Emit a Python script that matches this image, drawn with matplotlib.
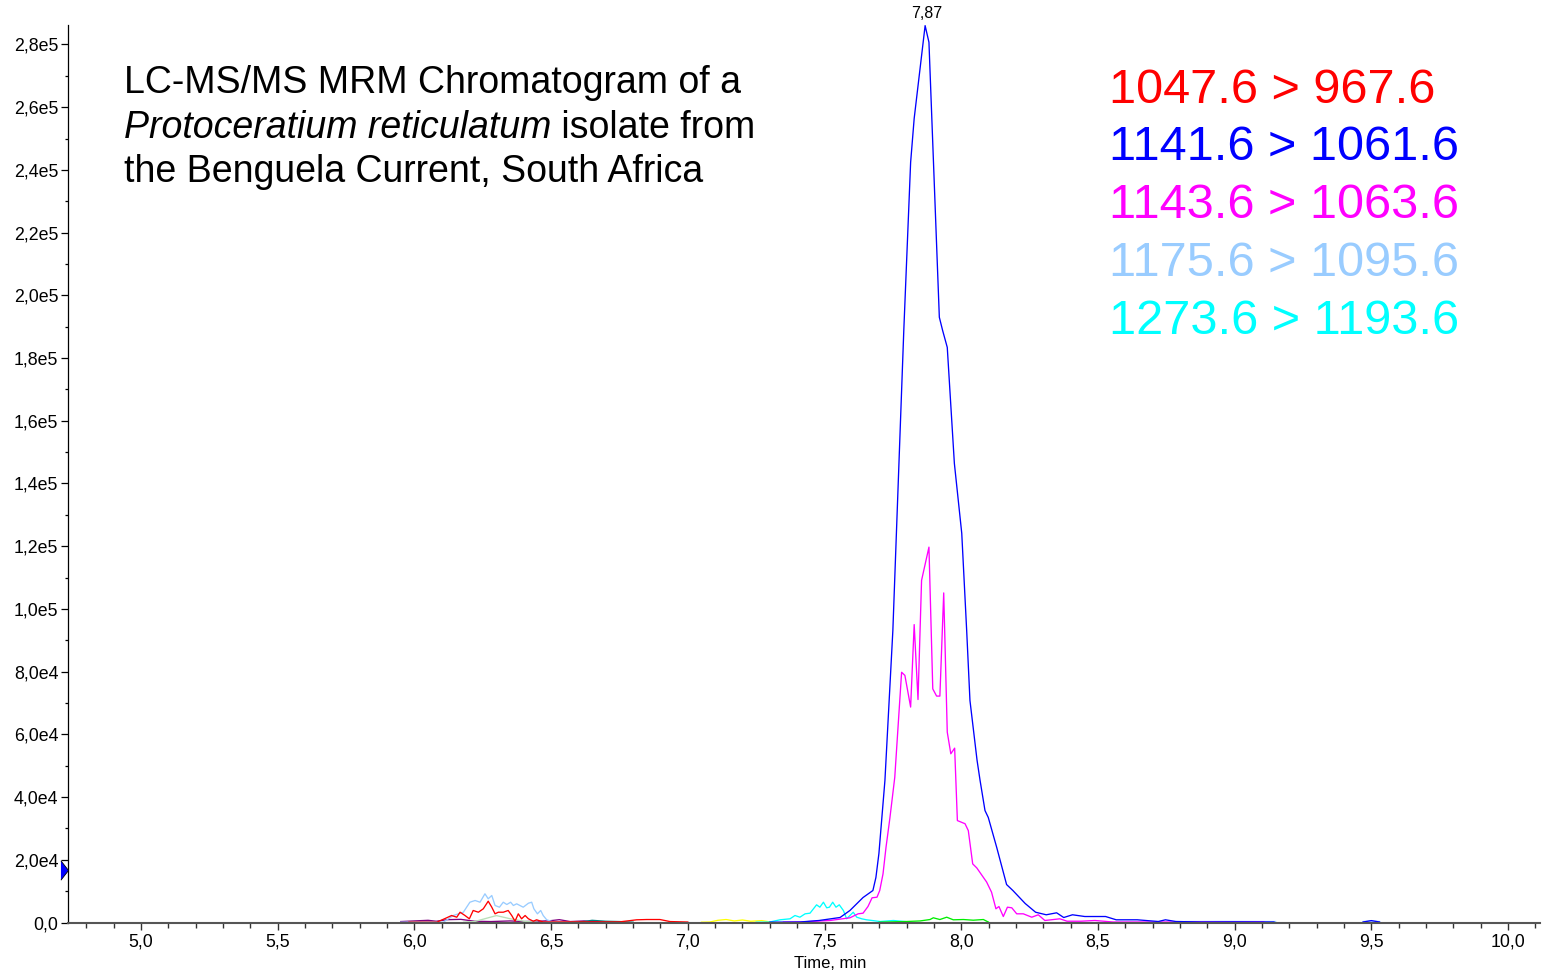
import numpy as np
import matplotlib
matplotlib.use('Agg')
import matplotlib.pyplot as plt
from matplotlib.ticker import MultipleLocator, FuncFormatter

plt.rcParams['font.family'] = ['Liberation Sans', 'DejaVu Sans']
nan = np.nan

# ---------------- data (time in min, intensity in cps) ----------------
blue_t = [7.30, 7.41, 7.48, 7.557, 7.593, 7.641, 7.677, 7.688, 7.699, 7.721, 7.750, 7.790,
          7.815, 7.828, 7.868, 7.882, 7.920, 7.932, 7.949, 7.975, 8.002, 8.020, 8.032, 8.058,
          8.069, 8.087, 8.099, 8.130, 8.166, 8.189, 8.234, 8.272, 8.311, 8.349, 8.375, 8.407,
          8.452, 8.528, 8.567, 8.644, 8.721, 8.747, 8.785, 8.88, 9.00, 9.144, nan, 9.47, 9.50, 9.53]
blue_i = [100, 160, 640, 1600, 3830, 7970, 10200, 14350, 22000, 45300, 93100, 188800,
          242400, 256400, 286000, 280700, 193000, 188800, 183400, 146400, 124100, 93100, 70800, 51700,
          45300, 35700, 33500, 23900, 12100, 10200, 6060, 3280, 2460, 3090, 1590, 2460,
          1910, 1910, 860, 860, 320, 860, 320, 160, 200, 160, nan, 160, 600, 160]

mag_t = [7.35, 7.41, 7.52, 7.593, 7.623, 7.641, 7.659, 7.674, 7.692, 7.702, 7.714, 7.725,
         7.739, 7.757, 7.782, 7.794, 7.815, 7.828, 7.842, 7.855, 7.882, 7.896, 7.910, 7.922,
         7.936, 7.949, 7.962, 7.976, 7.986, 8.014, 8.026, 8.042, 8.057, 8.093, 8.111, 8.127,
         8.138, 8.154, 8.169, 8.185, 8.203, 8.227, 8.258, 8.282, 8.306, 8.361, 8.387, 8.438,
         8.489, 8.555, 9.107]
mag_i = [100, 160, 640, 1500, 2770, 2970, 5100, 7880, 8070, 10200, 15500, 24000,
         33200, 46300, 79800, 78800, 68700, 95000, 71100, 109100, 119700, 74500, 72200, 72200,
         105100, 60700, 53800, 55600, 32500, 31500, 29300, 18700, 17400, 12900, 9660, 4370,
         5100, 1910, 4880, 4690, 2770, 2770, 1690, 2460, 640, 1180, 410, 410,
         640, 160, 160]

ltblue_t = [5.95, 6.05, 6.106, 6.142, 6.179, 6.203, 6.222, 6.240, 6.258, 6.270, 6.283, 6.295,
            6.311, 6.325, 6.338, 6.352, 6.362, 6.374, 6.386, 6.398, 6.417, 6.429, 6.437, 6.450,
            6.462, 6.471, 6.484, 6.508, 6.60, nan, 8.82, 8.95, 9.15, nan, 9.47, 9.50, 9.53]
ltblue_i = [100, 200, 100, 2230, 3280, 6470, 7020, 6470, 9150, 7560, 8610, 5420,
            4880, 6470, 5740, 6470, 5420, 5960, 5420, 4880, 6150, 6470, 4370, 2770,
            3830, 2230, 860, 160, 100, nan, 300, 350, 300, nan, 300, 500, 300]

red_t = [5.98, 6.082, 6.118, 6.136, 6.155, 6.167, 6.185, 6.201, 6.215, 6.234, 6.252, 6.270,
         6.283, 6.295, 6.307, 6.325, 6.343, 6.356, 6.368, 6.380, 6.392, 6.405, 6.417, 6.435,
         6.447, 6.471, 6.60, 6.75, 6.813, 6.850, 6.898, 6.935, 7.00]
red_i = [100, 100, 1500, 2230, 1690, 3280, 2230, 1180, 3830, 3280, 4370, 6790,
         4880, 2770, 3280, 3280, 3830, 2230, 410, 2770, 1180, 2230, 1180, 410,
         860, 160, 200, 200, 860, 950, 950, 300, 150]

cyan_t = [7.25, 7.300, 7.337, 7.374, 7.392, 7.410, 7.429, 7.447, 7.471, 7.483, 7.496, 7.508,
          7.518, 7.530, 7.542, 7.554, 7.569, 7.581, 7.593, 7.605, 7.618, 7.636, 7.654, 7.703,
          7.752, 7.813]
cyan_i = [100, 160, 860, 1180, 2230, 1690, 2770, 2970, 5640, 4880, 6470, 4690,
          4880, 6470, 4880, 5640, 3830, 1180, 2230, 3280, 1690, 1180, 860, 320,
          640, 160]

green_t = [7.70, 7.801, 7.850, 7.886, 7.898, 7.922, 7.947, 7.971, 8.008, 8.044, 8.081, 8.099]
green_i = [100, 320, 500, 950, 1500, 950, 1690, 860, 950, 730, 950, 160]

yellow_t = [7.05, 7.08, 7.11, 7.14, 7.17, 7.20, 7.23, 7.27, 7.30]
yellow_i = [100, 160, 700, 950, 500, 800, 400, 600, 200]

purple_t = [5.95, 6.00, 6.05, 6.08, 6.12, 6.17, 6.22, 6.28, 6.35, 6.40, 6.45, 6.50, 6.53,
            6.57, 6.62, 6.65, 6.70]
purple_i = [300, 500, 700, 400, 900, 1000, 400, 300, 500, 300, 400, 600, 900,
            300, 500, 300, 200]

ltgreen_t = [6.18, 6.22, 6.27, 6.30, 6.35, 6.40, 6.45]
ltgreen_i = [100, 300, 1500, 2200, 1200, 400, 100]

teal_t = [6.58, 6.62, 6.65, 6.70, 6.75, 6.80]
teal_i = [100, 300, 700, 400, 300, 100]

peak_rt = 7.875
peak_label = "7,87"
marker_level = 16900

legend_labels = ["1047.6 > 967.6", "1141.6 > 1061.6", "1143.6 > 1063.6",
                 "1175.6 > 1095.6", "1273.6 > 1193.6"]
legend_colors = ["#FF0000", "#0000FF", "#FF00FF", "#99CCFF", "#00FFFF"]

# ---------------- figure ----------------
W, H = 1543, 972
fig = plt.figure(figsize=(W / 100, H / 100), dpi=100)
ax = fig.add_axes([68 / W, 1 - 922.5 / H, (1540 - 68) / W, (922.5 - 25) / H])

lw = 0.95
ax.plot(purple_t, purple_i, color="#800080", lw=lw)
ax.plot(teal_t, teal_i, color="#008080", lw=lw)
ax.plot(ltgreen_t, ltgreen_i, color="#B8E0B8", lw=lw)
ax.plot(yellow_t, yellow_i, color="#FFFF00", lw=lw)
ax.plot(ltblue_t, ltblue_i, color="#99CCFF", lw=lw)
ax.plot(red_t, red_i, color="#FF0000", lw=lw)
ax.plot(cyan_t, cyan_i, color="#00FFFF", lw=lw)
ax.plot(green_t, green_i, color="#00EE00", lw=lw)
ax.plot(mag_t, mag_i, color="#FF00FF", lw=lw)
ax.plot(blue_t, blue_i, color="#0000FF", lw=lw)

xmin, xmax = 4.733, 10.117
ax.set_xlim(xmin, xmax)
ax.set_ylim(0, 2.862e5)

def yfmt(v, pos):
    if abs(v) < 1e-9:
        return "0,0"
    e = int(np.floor(np.log10(abs(v)) + 1e-9))
    m = v / 10 ** e
    return f"{m:.1f}e{e}".replace('.', ',')

def xfmt(v, pos):
    return f"{v:.1f}".replace('.', ',')

ax.xaxis.set_major_locator(MultipleLocator(0.5))
ax.xaxis.set_minor_locator(MultipleLocator(0.1))
ax.yaxis.set_major_locator(MultipleLocator(2e4))
ax.yaxis.set_minor_locator(MultipleLocator(1e4))
ax.xaxis.set_major_formatter(FuncFormatter(xfmt))
ax.yaxis.set_major_formatter(FuncFormatter(yfmt))

ax.spines['top'].set_visible(False)
ax.spines['right'].set_visible(False)
ax.spines['bottom'].set_color('#555555')
ax.spines['bottom'].set_linewidth(1.5)
ax.spines['left'].set_color('black')
ax.spines['left'].set_linewidth(0.9)
ax.tick_params(axis='x', which='major', length=5, width=1, color='#333333', pad=3, labelsize=12.8)
ax.tick_params(axis='x', which='minor', length=3.5, width=1, color='#333333')
ax.tick_params(axis='y', which='major', length=5, width=0.9, color='black', pad=2, labelsize=12.8)
ax.tick_params(axis='y', which='minor', length=2.5, width=0.9, color='black')

# left-edge marker
ax.plot([xmin], [marker_level], marker=[(-7, -9), (0, 0), (-7, 9)], markersize=14,
        color='#0000FF', markeredgecolor='black', markeredgewidth=0.6, clip_on=False, zorder=5)

# peak label
ax.annotate(peak_label, xy=(peak_rt, 2.862e5), xytext=(0, 3), textcoords='offset points',
            ha='center', va='bottom', fontsize=11.5, annotation_clip=False)

# title
tx = 124 / W
fs_title = 27
fig.text(tx, 1 - 92.7 / H, "LC-MS/MS MRM Chromatogram of a", fontsize=fs_title, va='baseline', ha='left')
t_it = fig.text(tx, 1 - 137.5 / H, "Protoceratium reticulatum", fontsize=fs_title,
                style='italic', va='baseline', ha='left')
fig.canvas.draw()
ax.annotate(" isolate from", xy=(1, 0), xycoords=t_it, fontsize=fs_title, va='bottom', ha='left')
fig.text(tx, 1 - 182 / H, "the Benguela Current, South Africa", fontsize=fs_title, va='baseline', ha='left')

# legend
lx = 1109 / W
for k, (lab, col) in enumerate(zip(legend_labels, legend_colors)):
    y = 102.7 + k * 57.8
    fig.text(lx, 1 - y / H, lab, color=col, fontsize=35, va='baseline', ha='left')

# x label (partly cut at the bottom edge)
fig.text(830 / W, 1 - 968 / H, "Time, min", fontsize=12, ha='center', va='baseline')

fig.savefig("out.png", dpi=100, facecolor='white')
